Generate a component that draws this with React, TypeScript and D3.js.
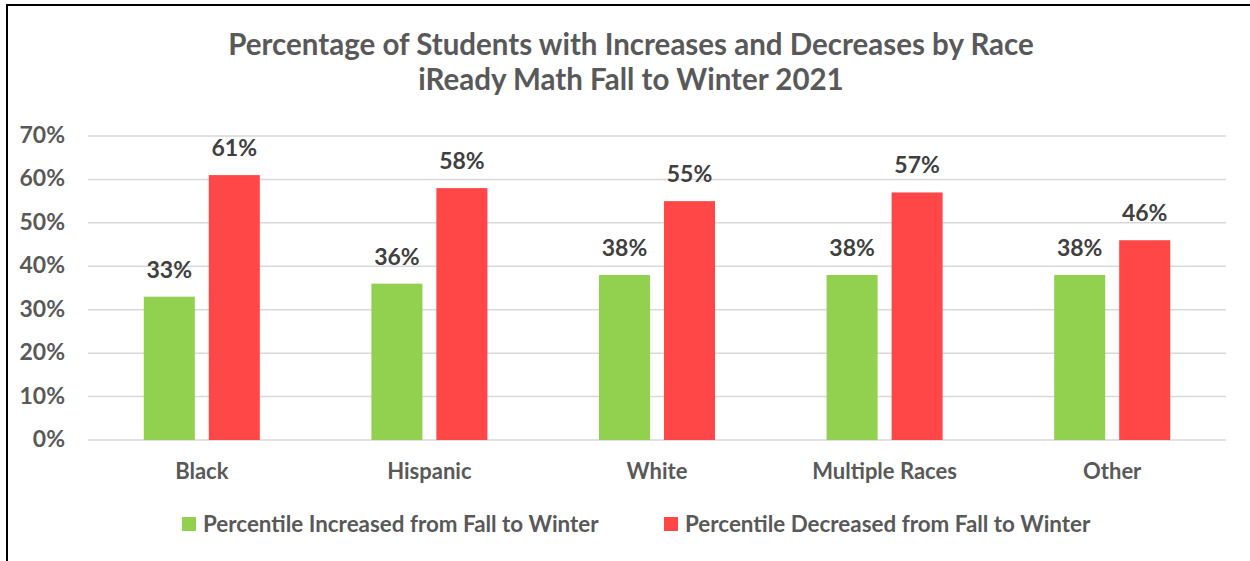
import React from "react";
import * as d3 from "d3";

const categories = ["Black", "Hispanic", "White", "Multiple Races", "Other"];
const seriesNames = [
  "Percentile Increased from Fall to Winter",
  "Percentile Decreased from Fall to Winter",
];
const increased = [0.33, 0.36, 0.38, 0.38, 0.38];
const decreased = [0.61, 0.58, 0.55, 0.57, 0.46];
const yTicks = [0, 0.1, 0.2, 0.3, 0.4, 0.5, 0.6, 0.7];
const titleLines = [
  "Percentage of Students with Increases and Decreases by Race",
  "iReady Math Fall to Winter 2021",
];
const colors = ["#92D050", "#FF4747"];

const W = 1250;
const H = 561;
const FONT = "Lato, 'Open Sans', sans-serif";
const TEXT = "#595959";

export default function App() {
  const x = d3.scaleBand<string>().domain(categories).range([88, 1226]);
  const inner = d3
    .scaleBand<string>()
    .domain(seriesNames)
    .range([0, x.bandwidth()])
    .paddingInner(0.215)
    .paddingOuter(0.858);
  const y = d3.scaleLinear().domain([0, 0.7]).range([440, 136]);
  const series = [increased, decreased];
  const pct = d3.format(".0%");

  return (
    <svg
      width={W}
      height={H}
      style={{ position: "fixed", left: 0, top: 0, background: "#fff" }}
      fontFamily={FONT}
      fontWeight="bold"
    >
      <rect x={0} y={0} width={W} height={H} fill="#fff" />
      <rect x={7} y={5} width={W + 20} height={H + 20} fill="none" stroke="#000" strokeWidth={2} />
      {titleLines.map((t, i) => (
        <text key={t} x={631} y={55 + i * 35} textAnchor="middle" fontSize={29.5} fill={TEXT}>
          {t}
        </text>
      ))}
      {yTicks.map((t) => (
        <g key={t}>
          <line x1={88} x2={1226} y1={y(t)} y2={y(t)} stroke="#D9D9D9" strokeWidth={1.5} />
          <text x={65} y={y(t) + 7} textAnchor="end" fontSize={23} fill={TEXT}>
            {pct(t)}
          </text>
        </g>
      ))}
      {categories.map((c, ci) => (
        <g key={c}>
          {series.map((vals, si) => {
            const bx = (x(c) as number) + (inner(seriesNames[si]) as number);
            const bw = inner.bandwidth();
            return (
              <g key={si}>
                <rect x={bx} y={y(vals[ci])} width={bw} height={y(0) - y(vals[ci])} fill={colors[si]} />
                <text x={bx + bw / 2} y={y(vals[ci]) - 19} textAnchor="middle" fontSize={23} fill="#404040">
                  {pct(vals[ci])}
                </text>
              </g>
            );
          })}
          <text x={(x(c) as number) + x.bandwidth() / 2} y={479} textAnchor="middle" fontSize={22} fill={TEXT}>
            {c}
          </text>
        </g>
      ))}
      {seriesNames.map((s, i) => {
        const lx = i === 0 ? 182 : 664;
        return (
          <g key={s}>
            <rect x={lx} y={517} width={14} height={14} fill={colors[i]} />
            <text x={lx + 21} y={531.5} fontSize={22.4} fill={TEXT}>
              {s}
            </text>
          </g>
        );
      })}
    </svg>
  );
}
